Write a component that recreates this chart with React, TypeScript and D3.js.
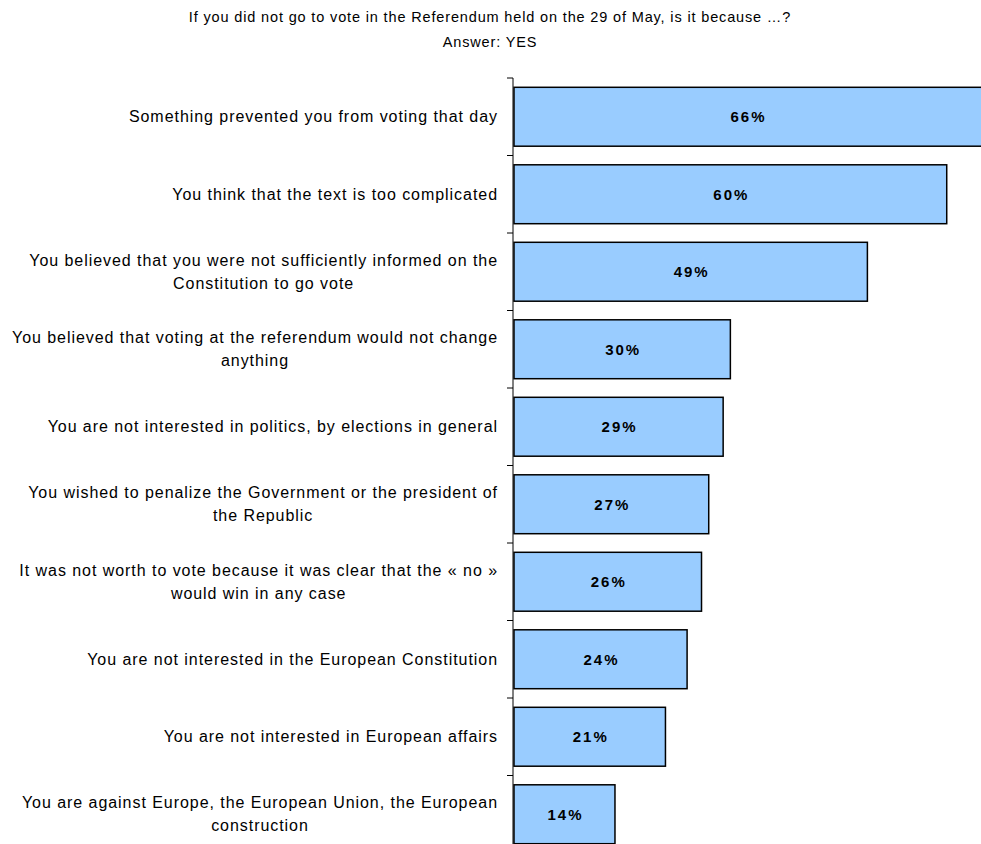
import { useMemo } from "react"
import * as d3 from "d3"

const title = [
  "If you did not go to vote in the Referendum held on the 29 of May, is it because …?",
  "Answer: YES",
]

const categories = [
  ["Something prevented you from voting that day"],
  ["You think that the text is too complicated"],
  ["You believed that you were not sufficiently informed on the", "Constitution to go vote"],
  ["You believed that voting at the referendum would not change", "anything"],
  ["You are not interested in politics, by elections in general"],
  ["You wished to penalize the Government or the president of", "the Republic"],
  ["It was not worth to vote because it was clear that the « no »", "would win in any case"],
  ["You are not interested in the European Constitution"],
  ["You are not interested in European affairs"],
  ["You are against Europe, the European Union, the European", "construction"],
]

const values = [66, 60, 49, 30, 29, 27, 26, 24, 21, 14]

const W = 981
const H = 844
const FONT = "'Liberation Sans', Arial, sans-serif"
const LABEL_SIZE = 16
const LABEL_LS = 0.95

function measure(text: string, font: string) {
  const c = document.createElement("canvas").getContext("2d")
  if (!c) return text.length * 7
  c.font = font
  // letter spacing added by hand so it works the same everywhere
  return c.measureText(text).width + text.length * LABEL_LS
}

export default function App() {
  const keys = categories.map((_, i) => String(i))

  const x = d3.scaleLinear().domain([0, 66]).range([514, 990])
  const y = d3
    .scaleBand()
    .domain(keys)
    .range([78, 853])
    .paddingInner(0.24)
    .paddingOuter(0.12)

  const axisX = 513
  const labelRight = 498

  const widths = useMemo(
    () => categories.map((lines) => lines.map((l) => measure(l, `${LABEL_SIZE}px ${FONT}`))),
    []
  )

  const step = y.step()
  const tickYs = d3.range(keys.length + 1).map((i) => 78 + i * step)

  return (
    <svg
      width={W}
      height={H}
      style={{ position: "absolute", left: 0, top: 0, display: "block", overflow: "hidden" }}
      fontFamily={FONT}
    >
      <rect width={W} height={H} fill="#fff" />
      {title.map((t, i) => (
        <text
          key={i}
          x={490}
          y={22 + i * 25}
          textAnchor="middle"
          fontSize={14.5}
          letterSpacing={0.85}
          fill="#000"
        >
          {t}
        </text>
      ))}

      {values.map((v, i) => {
        const y0 = y(keys[i]) as number
        const x1 = x(v)
        const visibleRight = Math.min(x1, W)
        return (
          <g key={i}>
            <rect
              x={x(0)}
              y={y0}
              width={x1 - x(0)}
              height={y.bandwidth()}
              fill="#99CCFF"
              stroke="#000"
              strokeWidth={1.5}
            />
            <text
              x={(x(0) + visibleRight) / 2 + 1}
              y={y0 + y.bandwidth() / 2}
              dy="0.35em"
              textAnchor="middle"
              fontSize={15}
              fontWeight="bold"
              letterSpacing={2}
              fill="#000"
            >
              {v}%
            </text>
          </g>
        )
      })}

      <line x1={axisX} x2={axisX} y1={78} y2={H} stroke="#000" strokeWidth={1} />
      {tickYs.map((ty, i) => (
        <line key={i} x1={axisX - 6} x2={axisX} y1={ty} y2={ty} stroke="#000" strokeWidth={1} />
      ))}

      {categories.map((lines, i) => {
        const cy = (y(keys[i]) as number) + y.bandwidth() / 2
        const maxW = Math.max(...widths[i])
        const cx = labelRight - maxW / 2
        const lh = 23
        const startY = cy - ((lines.length - 1) * lh) / 2
        return (
          <text key={i} fontSize={LABEL_SIZE} letterSpacing={LABEL_LS} fill="#000" textAnchor="middle">
            {lines.map((l, j) => (
              <tspan key={j} x={cx} y={startY + j * lh} dy="0.35em">
                {l}
              </tspan>
            ))}
          </text>
        )
      })}
    </svg>
  )
}
